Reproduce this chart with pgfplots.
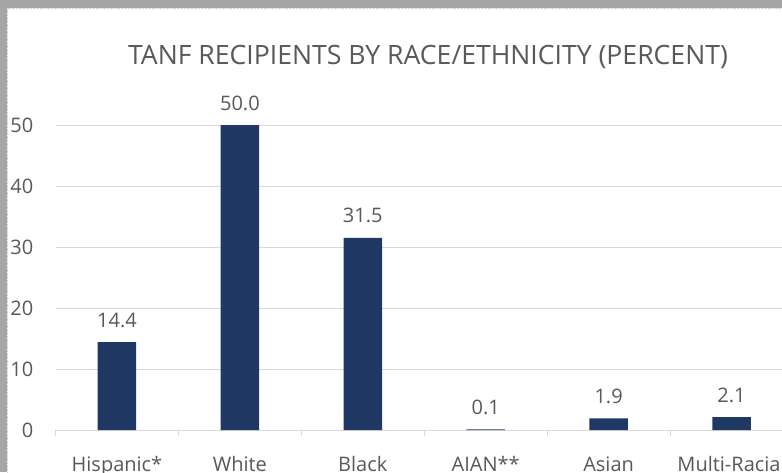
\documentclass[border=0pt]{standalone}
\usepackage{pgfplots}
\pgfplotsset{compat=1.18}
\usepackage{fontspec}
\setmainfont{Open Sans}
\definecolor{barc}{HTML}{1F3864}
\definecolor{txt}{HTML}{595959}
\definecolor{gridc}{HTML}{D9D9D9}
\definecolor{framec}{HTML}{A6A6A6}
\begin{document}
\begin{tikzpicture}
\useasboundingbox (0pt,0pt) rectangle (782pt,472pt);
\clip (0pt,0pt) rectangle (782pt,472pt);
\fill[framec] (0pt,0pt) rectangle (782pt,472pt);
\fill[white] (7pt,0pt) rectangle (782pt,464pt);
\draw[gray!35, densely dotted] (7.5pt,0pt) -- (7.5pt,463.5pt) -- (782pt,463.5pt);
\node[text=txt, font=\fontsize{26.6}{32}\selectfont, anchor=base] at (428pt,407pt) {TANF RECIPIENTS BY RACE/ETHNICITY (PERCENT)};
\begin{axis}[
  at={(55.5pt,42pt)}, anchor=south west,
  scale only axis, width=737.5pt, height=305pt,
  xmin=-0.5, xmax=5.5, ymin=0, ymax=50,
  ybar, bar width=38.5pt,
  /pgf/number format/assume math mode=true,
  axis lines*=left,
  x axis line style={draw=gridc, line width=0.9pt},
  y axis line style={draw=none},
  ytick={0,10,20,30,40,50},
  ymajorgrids, major grid style={draw=gridc, line width=0.9pt},
  ytick style={draw=none},
  xtick={-0.5,0.5,1.5,2.5,3.5,4.5,5.5},
  x tick label as interval,
  xticklabels={Hispanic*,White,Black,AIAN**,Asian,Multi-Racial},
  xtick style={draw=gridc, line width=0.9pt},
  xtick pos=bottom, xtick align=outside, major tick length=6pt,
  tick label style={font=\fontsize{20}{24}\selectfont, text=txt},
  yticklabel style={anchor=east, inner sep=0pt, xshift=-22pt},
  xticklabel style={anchor=base, inner sep=0pt, yshift=-35pt},
  nodes near coords,
  nodes near coords style={font=\fontsize{20}{24}\selectfont, text=txt, anchor=base, inner sep=0pt, yshift=15pt,
     /pgf/number format/.cd, fixed, fixed zerofill, precision=1},
  clip=false,
]
\addplot[fill=barc, draw=none] coordinates {(0,14.4) (1,50.0) (2,31.5) (3,0.1) (4,1.9) (5,2.1)};
\end{axis}
\end{tikzpicture}
\end{document}
